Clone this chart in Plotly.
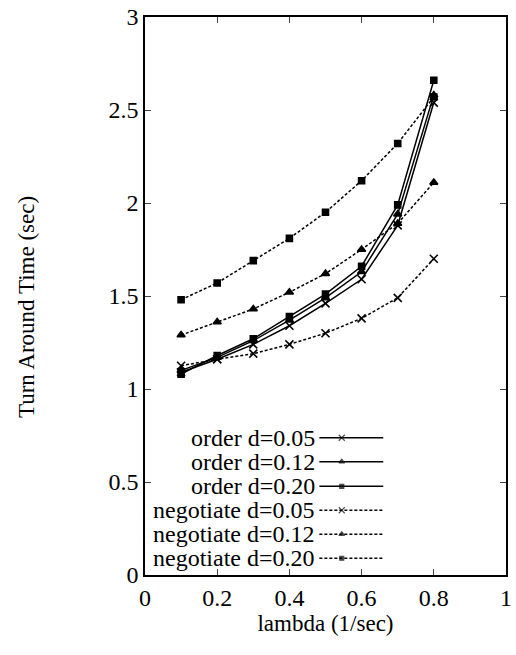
import plotly.graph_objects as go

lam = [0.1, 0.2, 0.3, 0.4, 0.5, 0.6, 0.7, 0.8]

order_005 = [1.09, 1.16, 1.24, 1.34, 1.46, 1.59, 1.88, 2.54]
order_012 = [1.10, 1.17, 1.26, 1.37, 1.49, 1.63, 1.94, 2.58]
order_020 = [1.08, 1.18, 1.27, 1.39, 1.51, 1.66, 1.99, 2.66]
neg_005 = [1.125, 1.16, 1.19, 1.24, 1.30, 1.38, 1.49, 1.70]
neg_012 = [1.29, 1.36, 1.43, 1.52, 1.62, 1.75, 1.89, 2.11]
neg_020 = [1.48, 1.57, 1.69, 1.81, 1.95, 2.12, 2.32, 2.57]

names = ["order d=0.05", "order d=0.12", "order d=0.20",
         "negotiate d=0.05", "negotiate d=0.12", "negotiate d=0.20"]
series = [order_005, order_012, order_020, neg_005, neg_012, neg_020]
symbols = ["x-thin", "triangle-up", "square", "x-thin", "triangle-up", "square"]
sizes = [8, 7, 6, 8, 7, 6]
dashes = ["solid", "solid", "solid", "3px,2px", "3px,2px", "3px,2px"]

x_ticks = [0, 0.2, 0.4, 0.6, 0.8, 1]
x_ticklabels = ["0", "0.2", "0.4", "0.6", "0.8", "1"]
y_ticks = [0, 0.5, 1, 1.5, 2, 2.5, 3]
y_ticklabels = ["0", "0.5", "1", "1.5", "2", "2.5", "3"]

FONT = "Liberation Serif"
fig = go.Figure()

for name, ys, sym, sz, dash in zip(names, series, symbols, sizes, dashes):
    fig.add_trace(go.Scatter(
        x=lam, y=ys, mode="lines+markers", name=name, showlegend=False,
        line=dict(color="black", width=1.5, dash=dash),
        marker=dict(symbol=sym, size=sz, color="black",
                    line=dict(color="black", width=1.6)),
    ))

# manual legend (text right-aligned, sample on the right) on an overlay axis
leg_rows = [0.246, 0.203, 0.159, 0.116, 0.073, 0.030]
for name, sym, sz, dash, yr in zip(names, symbols, sizes, dashes, leg_rows):
    fig.add_trace(go.Scatter(
        x=[0.483, 0.545, 0.66], y=[yr, yr, yr], mode="lines+markers",
        xaxis="x2", yaxis="y2", showlegend=False, hoverinfo="skip",
        line=dict(color="black", width=1.5, dash=dash),
        marker=dict(symbol=sym, size=[0, sz - 2, 0], color="black",
                    line=dict(color="black", width=1.2)),
    ))
    fig.add_annotation(x=0.477, y=yr, xref="paper", yref="paper",
                       text=name, showarrow=False, xanchor="right",
                       yanchor="middle", font=dict(family=FONT, size=24, color="black"))

# y-axis title
fig.add_annotation(x=-0.33, y=0.48, xref="paper", yref="paper",
                   text="Turn Around Time (sec)", textangle=-90, showarrow=False,
                   xanchor="center", yanchor="middle",
                   font=dict(family=FONT, size=23, color="black"))

fig.update_layout(
    width=516, height=655,
    margin=dict(l=145, r=4, t=14, b=80),
    paper_bgcolor="white", plot_bgcolor="white",
    font=dict(family=FONT, size=24, color="black"),
    xaxis=dict(range=[0, 1], tickvals=x_ticks, ticktext=x_ticklabels,
               ticks="inside", ticklen=6, tickwidth=1.2, showgrid=False,
               zeroline=False, showline=True, linecolor="black", linewidth=1.6,
               mirror="ticks", tickfont=dict(family=FONT, size=24),
               ticklabeloverflow="allow",
               title=dict(text="lambda (1/sec)", standoff=0,
                          font=dict(family=FONT, size=23))),
    yaxis=dict(range=[0, 3], tickvals=y_ticks, ticktext=y_ticklabels,
               ticks="inside", ticklen=6, tickwidth=1.2, showgrid=False,
               zeroline=False, showline=True, linecolor="black", linewidth=1.6,
               mirror="ticks", tickfont=dict(family=FONT, size=24)),
    xaxis2=dict(range=[0, 1], overlaying="x", visible=False, fixedrange=True),
    yaxis2=dict(range=[0, 1], overlaying="y", visible=False, fixedrange=True),
)

fig.write_html("out.html", config={"displayModeBar": False},
               post_script="document.body.style.margin='0px';")
